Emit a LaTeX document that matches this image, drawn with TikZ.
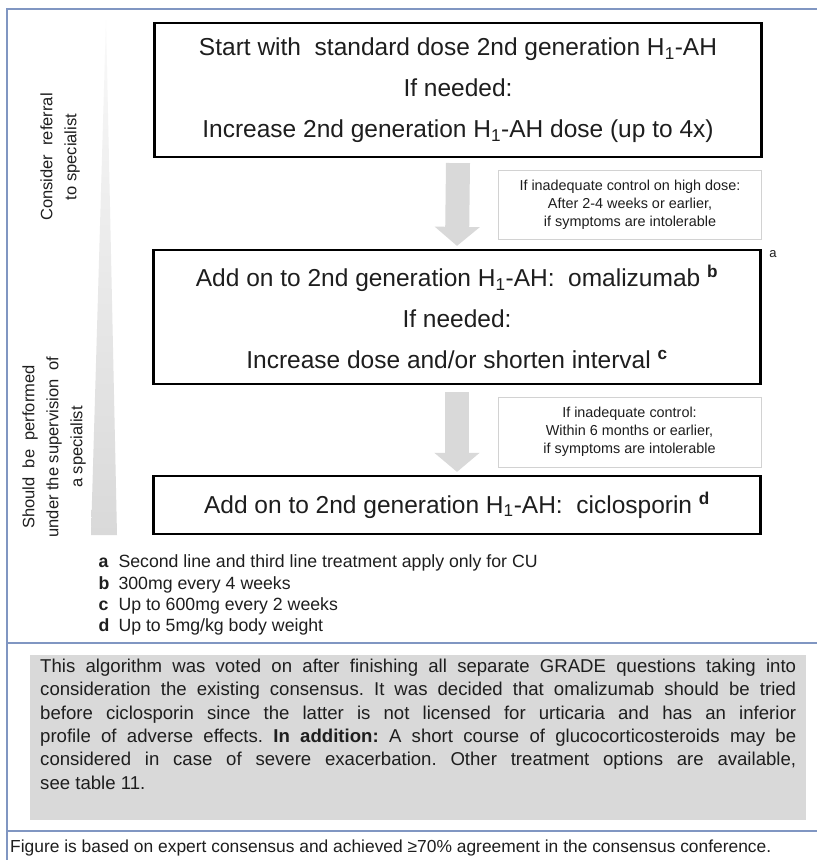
\documentclass[tikz,border=0pt]{standalone}
\usepackage{fontspec}
\setmainfont{Liberation Sans}
\usetikzlibrary{arrows.meta}
\definecolor{framecol}{HTML}{8096C2}
\definecolor{fillgray}{HTML}{D9D9D9}
\definecolor{notegray}{HTML}{D2D2D2}
\definecolor{inkcol}{HTML}{1E1E1E}
% a line of the comment panel, spread to the full measure
\newcommand{\fullline}[1]{\hbox to 756pt{\frenchspacing\spaceskip=0.278em plus 1fil\relax\xspaceskip=\spaceskip #1}}
\begin{document}
\begin{tikzpicture}[x=1pt,y=-1pt,
  every node/.style={text=inkcol},
  stepbox/.style={draw=black, line width=2.2pt, minimum width=607pt, inner sep=0pt,
    align=center, font=\fontsize{24.5}{41}\selectfont},
  notebox/.style={draw=notegray, line width=0.8pt, minimum width=263pt, inner sep=0pt,
    align=center, font=\fontsize{14.4}{18}\selectfont},
  flowarrow/.style={draw=fillgray, line width=24pt, -{Triangle[width=44pt,length=19pt]}},
  sidelabel/.style={rotate=90, align=center, font=\fontsize{16.5}{24}\selectfont},
  footnote/.style={anchor=north west, align=left, font=\fontsize{17.7}{21.3}\selectfont},
  framerule/.style={draw=framecol, line width=1.6pt},
  ]
\useasboundingbox (0,0) rectangle (817,860);
\fill[white] (0,0) rectangle (817,860);

% outer frame and separating rules
\draw[framerule] (7,860) -- (7,9) -- (817,9);
\draw[framerule] (7,643) -- (817,643);
\draw[framerule] (7,831) -- (817,831);

% widening wedge along the left margin
\shade[top color=white!85!fillgray, bottom color=fillgray]
  (106,20) -- (117,535) -- (91,535) -- cycle;

% side labels
\node[sidelabel] (referral) at (60,157) {Consider\ \ referral\\to specialist};
\node[sidelabel] (supervision) at (54,447) {Should\ \ be\ \ performed\\under the supervision\ \ of\\a specialist};

% treatment steps
\node[stepbox, minimum height=134pt] (step1) at (458,90)
  {Start with\ \ standard dose 2nd generation H\textsubscript{1}-AH\\If needed:\\Increase 2nd generation H\textsubscript{1}-AH dose (up to 4x)};
\node[stepbox, minimum height=134pt] (step2) at (457,317)
  {Add on to 2nd generation H\textsubscript{1}-AH:\ \ omalizumab \textsuperscript{\textbf{b}}\\If needed:\\Increase dose and/or shorten interval \textsuperscript{\textbf{c}}};
\node[stepbox, minimum height=58pt] (step3) at (457,505)
  {Add on to 2nd generation H\textsubscript{1}-AH:\ \ ciclosporin \textsuperscript{\textbf{d}}};
\node[font=\fontsize{13}{15}\selectfont] (amark) at (773,254) {a};

% escalation conditions
\node[notebox, minimum height=69pt] (cond1) at (630,204.5)
  {If inadequate control on high dose:\\After 2-4 weeks or earlier,\\if symptoms are intolerable};
\node[notebox, minimum height=70pt] (cond2) at (629.5,432)
  {If inadequate control:\\Within 6 months or earlier,\\if symptoms are intolerable};

% arrows between steps
\draw[flowarrow] ([yshift=-5pt]step1.south) -- ([yshift=3pt]step2.north);
\draw[flowarrow] ([yshift=-7pt]step2.south) -- ([yshift=3pt]step3.north);

% footnotes
\node[footnote] (notes) at (95,551.5)
  {\makebox[20pt][l]{\textbf{a}}Second line and third line treatment apply only for CU\\
   \makebox[20pt][l]{\textbf{b}}300mg every 4 weeks\\
   \makebox[20pt][l]{\textbf{c}}Up to 600mg every 2 weeks\\
   \makebox[20pt][l]{\textbf{d}}Up to 5mg/kg body weight};

% comment panel
\node[fill=fillgray, minimum width=776pt, minimum height=165pt, inner sep=0pt, anchor=north west] (panel) at (30,655) {};
\node[anchor=north west, inner sep=0pt, align=left, font=\fontsize{18.6}{23.3}\selectfont] (paneltext) at (40,659)
  {\fullline{This algorithm was voted on after finishing all separate GRADE questions taking into}\\
   \fullline{consideration the existing consensus. It was decided that omalizumab should be tried}\\
   \fullline{before ciclosporin since the latter is not licensed for urticaria and has an inferior}\\
   \fullline{profile of adverse effects. \textbf{In addition:} A short course of glucocorticosteroids may be}\\
   \fullline{considered in case of severe exacerbation. Other treatment options are available,}\\
   see table 11.};

% footer
\node[anchor=west, inner sep=0pt, font=\fontsize{17.4}{19}\selectfont] (footer) at (10,848)
  {Figure is based on expert consensus and achieved ≥70\% agreement in the consensus conference.};
\end{tikzpicture}
\end{document}
